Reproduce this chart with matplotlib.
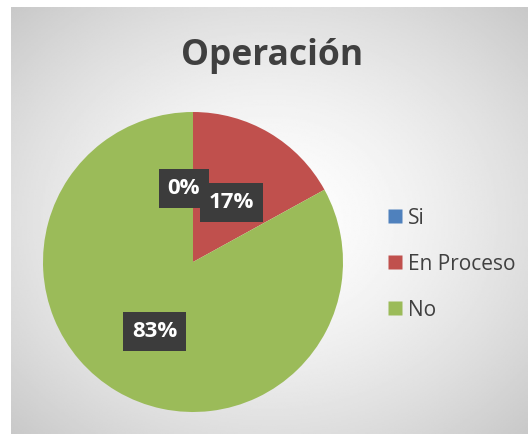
import numpy as np
import matplotlib.pyplot as plt
from matplotlib.lines import Line2D

categories = ["Si", "En Proceso", "No"]
values = [0, 17, 83]
colors = ["#4F81BD", "#C0504D", "#9BBB59"]
title = "Operación"

plt.rcParams['font.family'] = ['Open Sans', 'DejaVu Sans']

fig = plt.figure(figsize=(5.28, 4.34), dpi=100)
fig.patch.set_facecolor('white')

# radial grey background
bg = fig.add_axes([11 / 528, 0, 1 - 11 / 528, 1 - 7 / 434])
yy, xx = np.mgrid[0:1:300j, 0:1:300j]
r = np.sqrt(((xx - 0.5) / 0.72) ** 2 + ((yy - 0.5) / 0.72) ** 2)
bg.imshow(1 - 0.22 * np.clip(r, 0, 1) ** 1.5, cmap='gray', vmin=0, vmax=1,
          aspect='auto', extent=[0, 1, 0, 1], origin='lower')
bg.axis('off')

fig.text(272 / 528, 1 - 56 / 434, title, ha='center', va='center',
         fontsize=25.5, fontweight='bold', color='#404040')

ax = fig.add_axes([43 / 528, 22 / 434, 300 / 528, 300 / 434])
wedges, texts, autotexts = ax.pie(values, colors=colors, startangle=90,
                                  counterclock=False, autopct='%1.0f%%',
                                  pctdistance=0.5,
                                  wedgeprops=dict(linewidth=0))
ax.set_aspect('auto')
ax.set_xlim(-1, 1)
ax.set_ylim(-1, 1)

for i, t in enumerate(autotexts):
    t.set_color('white')
    t.set_fontweight('bold')
    t.set_fontsize(16)
    t.set_bbox(dict(boxstyle='square,pad=0.4', facecolor='#3c3c3c',
                    edgecolor='none'))
    x, y = t.get_position()
    if values[i] == 0:
        t.set_position((x - 0.06, y - 0.01))
        t.set_zorder(3)
    else:
        t.set_position((x, y - 0.035))
        t.set_zorder(4)

handles = [Line2D([], [], marker='s', linestyle='none', markersize=10,
                  markerfacecolor=c, markeredgecolor='none') for c in colors]
fig.legend(handles, categories, loc='upper left',
           bbox_to_anchor=(366 / 528, 1 - 189 / 434), frameon=False,
           fontsize=15, labelspacing=1.2, handletextpad=0.1,
           handlelength=1.0, labelcolor='#404040')

fig.savefig('out.png', dpi=100)
